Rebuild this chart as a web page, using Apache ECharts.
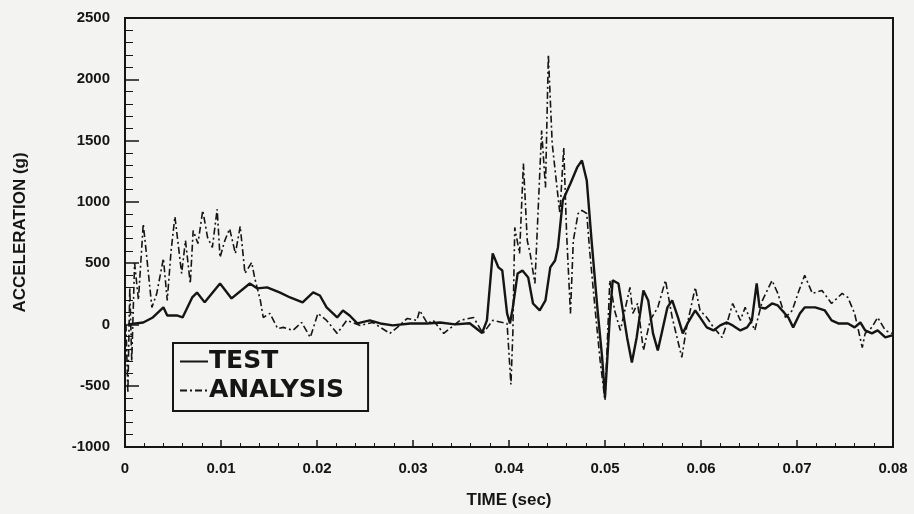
<!DOCTYPE html>
<html>
<head>
<meta charset="utf-8">
<script src="https://cdn.jsdelivr.net/npm/echarts@6/dist/echarts.min.js"></script>
<style>
  html, body { margin: 0; padding: 0; background: #f3f3f1; }
  #chart { width: 914px; height: 514px; }
</style>
</head>
<body>
<div id="chart"></div>
<script>
// axis ticks
const timeTicks = [0, 0.01, 0.02, 0.03, 0.04, 0.05, 0.06, 0.07, 0.08];
const accelTicks = [-1000, -500, 0, 500, 1000, 1500, 2000, 2500];

// TEST (solid)
const testTime = [0.0003, 0.0019, 0.0029, 0.0040, 0.0044, 0.0054, 0.0060, 0.0070, 0.0075, 0.0083,
  0.0099, 0.0111, 0.0130, 0.0138, 0.0148, 0.0161, 0.0172, 0.0185, 0.0196, 0.0203,
  0.0210, 0.0221, 0.0227, 0.0234, 0.0242, 0.0255, 0.0266, 0.0279, 0.0297, 0.0315,
  0.0328, 0.0344, 0.0359, 0.0372, 0.0377, 0.0383, 0.0389, 0.0393, 0.0398, 0.0401,
  0.0404, 0.0409, 0.0414, 0.0420, 0.0425, 0.0432, 0.0438, 0.0443, 0.0448, 0.0451,
  0.0456, 0.0464, 0.0471, 0.0476, 0.0481, 0.0486, 0.0492, 0.0497, 0.0500, 0.0505,
  0.0508, 0.0514, 0.0518, 0.0523, 0.0528, 0.0533, 0.0540, 0.0545, 0.0550, 0.0555,
  0.0559, 0.0565, 0.0570, 0.0576, 0.0581, 0.0586, 0.0594, 0.0599, 0.0606, 0.0613,
  0.0620, 0.0627, 0.0633, 0.0641, 0.0648, 0.0653, 0.0658, 0.0661, 0.0667, 0.0674,
  0.0680, 0.0691, 0.0696, 0.0703, 0.0708, 0.0719, 0.0729, 0.0736, 0.0743, 0.0753,
  0.0760, 0.0766, 0.0771, 0.0778, 0.0784, 0.0792, 0.0799];
const testAccel = [0, 16, 57, 140, 73, 73, 57, 220, 260, 180,
  334, 212, 334, 294, 302, 261, 220, 180, 261, 236,
  139, 57, 114, 73, 8, 33, 8, -8, 8, 8,
  16, 0, 10, -70, 33, 580, 465, 440, 90, 8,
  139, 416, 440, 383, 171, 114, 196, 465, 522, 628,
  1011, 1150, 1281, 1338, 1175, 685, 139, -269, -595, 57,
  359, 334, 139, -106, -310, -106, 277, 196, -73, -212,
  -73, 139, 196, 57, -73, 8, 114, 57, -24, -49,
  -8, 16, -8, -49, -24, 33, 334, 139, 130, 171,
  155, 57, -24, 90, 139, 139, 114, 33, 8, 8,
  -24, 16, -49, -73, -49, -106, -90];

// ANALYSIS (dash-dot)
const analysisTime = [0.0001, 0.0003, 0.0005, 0.0007, 0.0010, 0.0014, 0.0019, 0.0022, 0.0028, 0.0033,
  0.0040, 0.0044, 0.0048, 0.0052, 0.0059, 0.0063, 0.0068, 0.0071, 0.0076, 0.0081,
  0.0086, 0.0091, 0.0096, 0.0099, 0.0104, 0.0109, 0.0115, 0.0120, 0.0125, 0.0132,
  0.0135, 0.0141, 0.0144, 0.0151, 0.0159, 0.0165, 0.0175, 0.0184, 0.0193, 0.0201,
  0.0210, 0.0221, 0.0231, 0.0245, 0.0258, 0.0276, 0.0286, 0.0294, 0.0304, 0.0307,
  0.0315, 0.0321, 0.0332, 0.0349, 0.0363, 0.0373, 0.0383, 0.0398, 0.0402, 0.0404,
  0.0406, 0.0411, 0.0415, 0.0419, 0.0422, 0.0427, 0.0434, 0.0438, 0.0441, 0.0445,
  0.0450, 0.0453, 0.0457, 0.0460, 0.0464, 0.0467, 0.0472, 0.0476, 0.0481, 0.0484,
  0.0490, 0.0495, 0.0500, 0.0505, 0.0510, 0.0516, 0.0526, 0.0529, 0.0534, 0.0540,
  0.0547, 0.0555, 0.0563, 0.0570, 0.0575, 0.0580, 0.0585, 0.0594, 0.0599, 0.0606,
  0.0613, 0.0622, 0.0627, 0.0633, 0.0641, 0.0646, 0.0656, 0.0664, 0.0674, 0.0680,
  0.0688, 0.0695, 0.0701, 0.0708, 0.0716, 0.0726, 0.0736, 0.0747, 0.0753, 0.0760,
  0.0768, 0.0771, 0.0778, 0.0784, 0.0792, 0.0799];
const analysisAccel = [0, -560, 300, -300, 500, 200, 820, 600, 139, 250,
  538, 196, 600, 880, 416, 685, 334, 766, 660, 930,
  710, 628, 940, 546, 685, 780, 579, 800, 416, 506,
  383, 196, 57, 90, -33, -24, -49, 16, -106, 90,
  33, -73, 33, -8, 16, -73, -8, 49, 33, 114,
  8, 33, -73, 33, 57, -73, 33, 8, -490, -73,
  791, 579, 1313, 685, 579, 334, 1582, 1117, 2200, 1476,
  1117, 905, 1444, 742, 90, 685, 905, 930, 905, 603,
  100, -300, -620, 359, 114, -49, 302, 90, 171, -212,
  33, 139, 359, 57, -106, -269, -24, 302, 114, 57,
  -24, -106, 8, 171, 33, 139, -49, 196, 359, 253,
  57, 114, 253, 400, 253, 277, 171, 253, 220, 90,
  -188, -73, -24, 57, -49, -73];

const chart = echarts.init(document.getElementById('chart'));

const ink = '#151515';
const labelFont = { color: ink, fontFamily: 'Liberation Sans', fontWeight: 'bold', fontSize: 15 };

const option = {
  backgroundColor: '#f3f3f1',
  animation: false,
  grid: {
    left: 125, right: 21, top: 18, bottom: 67,
    show: true, borderColor: ink, borderWidth: 2, backgroundColor: 'transparent'
  },
  legend: {
    left: 173, top: 343,
    orient: 'vertical',
    data: ['TEST', 'ANALYSIS'],
    itemWidth: 28, itemHeight: 14, itemGap: 4,
    padding: [6, 24, 8, 6],
    borderColor: ink, borderWidth: 2, borderRadius: 0,
    itemStyle: { opacity: 0 },
    textStyle: { color: ink, fontFamily: 'DejaVu Sans', fontWeight: 'bold', fontSize: 25, padding: [0, 0, 0, -4] }
  },
  xAxis: {
    type: 'value',
    min: timeTicks[0], max: timeTicks[timeTicks.length - 1], interval: 0.01,
    name: 'TIME (sec)', nameLocation: 'middle', nameGap: 45,
    nameTextStyle: { color: ink, fontFamily: 'Liberation Sans', fontWeight: 'bold', fontSize: 17 },
    axisLine: { onZero: false, lineStyle: { color: ink, width: 2 } },
    axisTick: { inside: true, length: 7, lineStyle: { color: ink, width: 1.5 } },
    minorTick: { show: true, splitNumber: 5, length: 4, lineStyle: { color: ink } },
    splitLine: { show: false },
    axisLabel: Object.assign({ margin: 14, formatter: v => v === 0 ? '0' : v.toFixed(2) }, labelFont)
  },
  yAxis: {
    type: 'value',
    min: accelTicks[0], max: accelTicks[accelTicks.length - 1], interval: 500,
    name: 'ACCELERATION (g)', nameLocation: 'middle', nameGap: 96,
    nameTextStyle: { color: ink, fontFamily: 'Liberation Sans', fontWeight: 'bold', fontSize: 17 },
    axisLine: { onZero: false, lineStyle: { color: ink, width: 2 } },
    axisTick: { inside: true, length: 14, lineStyle: { color: ink, width: 1.5 } },
    minorTick: { show: true, splitNumber: 5, length: 8, lineStyle: { color: ink } },
    splitLine: { show: false },
    axisLabel: Object.assign({ margin: 15, formatter: v => String(v) }, labelFont)
  },
  series: [
    {
      name: 'TEST',
      type: 'line',
      showSymbol: false, symbol: 'none', symbolSize: 0,
      lineStyle: { color: ink, width: 2.4 },
      itemStyle: { color: ink },
      data: testTime.map((t, i) => [t, testAccel[i]]),
      z: 3
    },
    {
      name: 'ANALYSIS',
      type: 'line',
      showSymbol: false, symbol: 'none', symbolSize: 0,
      lineStyle: { color: ink, width: 1.6, type: [7, 3, 2, 3] },
      itemStyle: { color: ink },
      data: analysisTime.map((t, i) => [t, analysisAccel[i]]),
      z: 2
    }
  ]
};

chart.setOption(option);
</script>
</body>
</html>
